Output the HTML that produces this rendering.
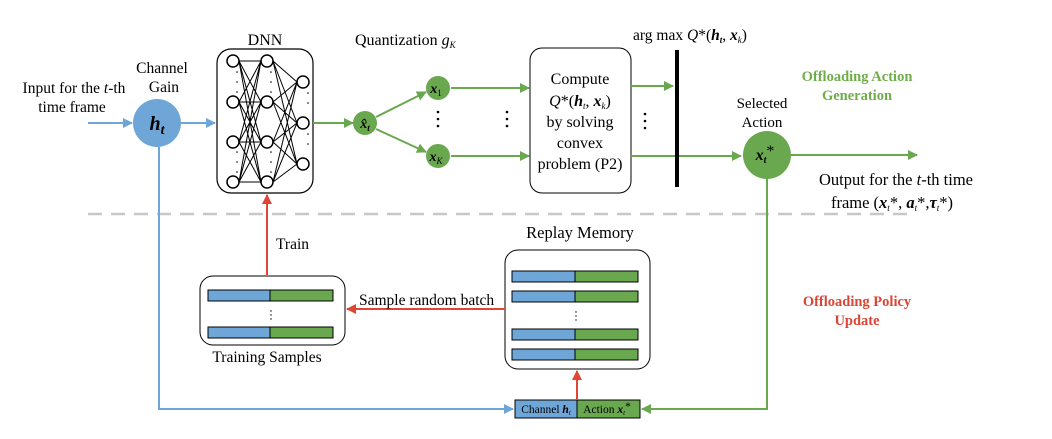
<!DOCTYPE html>
<html><head><meta charset="utf-8"><style>
body{margin:0;background:#fff;}
svg{display:block;font-family:"Liberation Serif",serif;}
</style></head><body>
<svg width="1052" height="439" viewBox="0 0 1052 439" xmlns="http://www.w3.org/2000/svg">
<defs>
<marker id="ab" markerWidth="10" markerHeight="10" refX="9" refY="5" orient="auto" markerUnits="userSpaceOnUse"><path d="M0,0 L10,5 L0,10 Z" fill="#6fa6d8"/></marker>
<marker id="ag" markerWidth="10" markerHeight="10" refX="9" refY="5" orient="auto" markerUnits="userSpaceOnUse"><path d="M0,0 L10,5 L0,10 Z" fill="#69a84f"/></marker>
<marker id="ar" markerWidth="10" markerHeight="10" refX="9" refY="5" orient="auto" markerUnits="userSpaceOnUse"><path d="M0,0 L10,5 L0,10 Z" fill="#e04535"/></marker>
</defs>

<line x1="88" y1="214" x2="908" y2="214" stroke="#c8c8c8" stroke-width="2.5" stroke-dasharray="14,9"/>

<text x="74" y="93" font-size="15.5" text-anchor="middle">Input for the <tspan font-style="italic">t</tspan>-th</text>
<text x="72" y="112" font-size="15.5" text-anchor="middle">time frame</text>
<line x1="88" y1="123" x2="132" y2="123" stroke="#6fa6d8" stroke-width="2" marker-end="url(#ab)"/>
<text x="162" y="73" font-size="15.5" text-anchor="middle">Channel</text>
<text x="164" y="92" font-size="15.5" text-anchor="middle">Gain</text>
<circle cx="157" cy="123" r="24" fill="#6fa6d8"/>
<text x="157" y="130" font-size="20" font-weight="bold" font-style="italic" text-anchor="middle">h<tspan font-size="14" dy="4">t</tspan></text>
<line x1="181" y1="123" x2="215" y2="123" stroke="#6fa6d8" stroke-width="2" marker-end="url(#ab)"/>

<text x="265" y="45" font-size="16" text-anchor="middle">DNN</text>
<rect x="217" y="49" width="96" height="144" rx="14" fill="#fff" stroke="#000" stroke-width="1.2"/>
<g stroke="#000" stroke-width="1">
<path d="M239,61L261,61M239,61L261,102M239,61L261,142M239,61L261,182M239,102L261,61M239,102L261,102M239,102L261,142M239,102L261,182M239,142L261,61M239,142L261,102M239,142L261,142M239,142L261,182M239,182L261,61M239,182L261,102M239,182L261,142M239,182L261,182"/>
<path d="M273,61L297,82M273,61L297,123M273,61L297,164M273,102L297,82M273,102L297,123M273,102L297,164M273,142L297,82M273,142L297,123M273,142L297,164M273,182L297,82M273,182L297,123M273,182L297,164"/>
</g>
<g fill="#fff" stroke="#000" stroke-width="1.5">
<circle cx="233" cy="61" r="6"/><circle cx="233" cy="102" r="6"/><circle cx="233" cy="142" r="6"/><circle cx="233" cy="182" r="6"/>
<circle cx="267" cy="61" r="6"/><circle cx="267" cy="102" r="6"/><circle cx="267" cy="142" r="6"/><circle cx="267" cy="182" r="6"/>
<circle cx="303" cy="82" r="6"/><circle cx="303" cy="123" r="6"/><circle cx="303" cy="164" r="6"/>
</g>
<g fill="#000">
<circle cx="237" cy="72" r=".8"/><circle cx="237" cy="82" r=".8"/><circle cx="237" cy="92" r=".8"/><circle cx="237" cy="152" r=".8"/><circle cx="237" cy="162" r=".8"/><circle cx="237" cy="172" r=".8"/>
<circle cx="271" cy="72" r=".8"/><circle cx="271" cy="82" r=".8"/><circle cx="271" cy="92" r=".8"/><circle cx="271" cy="152" r=".8"/><circle cx="271" cy="162" r=".8"/><circle cx="271" cy="172" r=".8"/>
<circle cx="308" cy="93" r=".8"/><circle cx="308" cy="103" r=".8"/><circle cx="308" cy="134" r=".8"/><circle cx="308" cy="144" r=".8"/>
</g>
<line x1="313" y1="123" x2="353" y2="123" stroke="#69a84f" stroke-width="2" marker-end="url(#ag)"/>

<text x="355" y="45" font-size="16">Quantization <tspan font-style="italic">g</tspan><tspan font-size="9" font-style="italic" dy="3">K</tspan></text>
<circle cx="365" cy="123" r="12" fill="#69a84f"/>
<text x="365" y="128" font-size="14" font-weight="bold" font-style="italic" text-anchor="middle">x̂<tspan font-size="9" dy="3">t</tspan></text>
<line x1="376" y1="117" x2="426" y2="92" stroke="#69a84f" stroke-width="2" marker-end="url(#ag)"/>
<line x1="376" y1="129" x2="426" y2="152" stroke="#69a84f" stroke-width="2" marker-end="url(#ag)"/>
<circle cx="438" cy="88" r="12" fill="#69a84f"/>
<text x="436" y="93" font-size="14" font-weight="bold" font-style="italic" text-anchor="middle">x<tspan font-size="9" font-weight="normal" font-style="normal" dy="3">1</tspan></text>
<circle cx="438" cy="156" r="12" fill="#69a84f"/>
<text x="436" y="161" font-size="14" font-weight="bold" font-style="italic" text-anchor="middle">x<tspan font-size="9" font-weight="normal" dy="3">K</tspan></text>
<g fill="#000"><circle cx="438" cy="112" r="1.3"/><circle cx="438" cy="119" r="1.3"/><circle cx="438" cy="126" r="1.3"/>
<circle cx="507" cy="112" r="1.3"/><circle cx="507" cy="119" r="1.3"/><circle cx="507" cy="126" r="1.3"/>
<circle cx="645" cy="114" r="1.3"/><circle cx="645" cy="121" r="1.3"/><circle cx="645" cy="128" r="1.3"/></g>
<line x1="451" y1="88" x2="529" y2="88" stroke="#69a84f" stroke-width="2" marker-end="url(#ag)"/>
<line x1="451" y1="156" x2="529" y2="156" stroke="#69a84f" stroke-width="2" marker-end="url(#ag)"/>

<rect x="530" y="48" width="101" height="145" rx="12" fill="#fff" stroke="#000" stroke-width="1"/>
<g font-size="16" text-anchor="middle">
<text x="580" y="84">Compute</text>
<text x="580" y="106"><tspan font-style="italic">Q</tspan>*(<tspan font-weight="bold" font-style="italic">h</tspan><tspan font-size="9" font-style="italic" dy="3">t</tspan><tspan dy="-3">, </tspan><tspan font-weight="bold" font-style="italic">x</tspan><tspan font-size="9" font-style="italic" dy="3">k</tspan><tspan dy="-3">)</tspan></text>
<text x="580" y="127">by solving</text>
<text x="580" y="148">convex</text>
<text x="580" y="169">problem (P2)</text>
</g>
<line x1="631" y1="86" x2="673" y2="86" stroke="#69a84f" stroke-width="2" marker-end="url(#ag)"/>
<line x1="631" y1="156" x2="741" y2="156" stroke="#69a84f" stroke-width="2" marker-end="url(#ag)"/>
<line x1="677" y1="50" x2="677" y2="187" stroke="#000" stroke-width="4"/>
<text x="690" y="40" font-size="15.5" text-anchor="middle">arg max <tspan font-style="italic">Q</tspan>*(<tspan font-weight="bold" font-style="italic">h</tspan><tspan font-size="9" font-weight="bold" font-style="italic" dy="3">t</tspan><tspan dy="-3">, </tspan><tspan font-weight="bold" font-style="italic">x</tspan><tspan font-size="9" font-style="italic" dy="3">k</tspan><tspan dy="-3">)</tspan></text>

<text x="762" y="108" font-size="15" text-anchor="middle">Selected</text>
<text x="762" y="127" font-size="15" text-anchor="middle">Action</text>
<circle cx="767" cy="155" r="24" fill="#69a84f"/>
<text x="765" y="160" font-size="16" font-weight="bold" font-style="italic" text-anchor="middle">x<tspan font-size="10" dy="3">t</tspan><tspan font-weight="normal" font-style="normal" dy="-7">*</tspan></text>
<line x1="791" y1="155" x2="917" y2="155" stroke="#69a84f" stroke-width="2" marker-end="url(#ag)"/>
<text x="857" y="81" font-size="14.5" font-weight="bold" fill="#6fad4a" text-anchor="middle">Offloading Action</text>
<text x="857" y="100" font-size="14.5" font-weight="bold" fill="#6fad4a" text-anchor="middle">Generation</text>
<text x="896" y="185" font-size="16.5" text-anchor="middle">Output for the <tspan font-style="italic">t</tspan>-th time</text>
<text x="892" y="208" font-size="16.5" text-anchor="middle">frame (<tspan font-weight="bold" font-style="italic">x</tspan><tspan font-size="9" font-style="italic" dy="3">t</tspan><tspan dy="-3">*, </tspan><tspan font-weight="bold" font-style="italic">a</tspan><tspan font-size="9" font-style="italic" dy="3">t</tspan><tspan dy="-3">*,</tspan><tspan font-weight="bold" font-style="italic">τ</tspan><tspan font-size="9" font-style="italic" dy="3">t</tspan><tspan dy="-3">*)</tspan></text>
<text x="857" y="306" font-size="14.5" font-weight="bold" fill="#dc4435" text-anchor="middle">Offloading Policy</text>
<text x="857" y="325" font-size="14.5" font-weight="bold" fill="#dc4435" text-anchor="middle">Update</text>

<polyline points="159,147 159,409 513,409" fill="none" stroke="#6fa6d8" stroke-width="2" marker-end="url(#ab)"/>
<polyline points="767,179 767,409 642,409" fill="none" stroke="#69a84f" stroke-width="2" marker-end="url(#ag)"/>

<rect x="515" y="400" width="62" height="18" fill="#6fa6d8" stroke="#000" stroke-width="1"/>
<rect x="577" y="400" width="63" height="18" fill="#69a84f" stroke="#000" stroke-width="1"/>
<text x="546" y="413" font-size="11.5" text-anchor="middle">Channel <tspan font-weight="bold" font-style="italic">h</tspan><tspan font-size="7" font-style="italic" dy="2">t</tspan></text>
<text x="607" y="413" font-size="11.5" text-anchor="middle">Action <tspan font-weight="bold" font-style="italic">x</tspan><tspan font-size="7" font-style="italic" dy="2">t</tspan><tspan dy="-5">*</tspan></text>
<line x1="577" y1="400" x2="577" y2="371" stroke="#e04535" stroke-width="2" marker-end="url(#ar)"/>

<text x="580" y="238" font-size="16.5" text-anchor="middle">Replay Memory</text>
<rect x="505" y="250" width="145" height="119" rx="13" fill="#fff" stroke="#000" stroke-width="1"/>
<g stroke="#000" stroke-width="1">
<rect x="512" y="271" width="63" height="11" fill="#6fa6d8"/><rect x="575" y="271" width="63" height="11" fill="#69a84f"/>
<rect x="512" y="291" width="63" height="11" fill="#6fa6d8"/><rect x="575" y="291" width="63" height="11" fill="#69a84f"/>
<rect x="512" y="329" width="63" height="11" fill="#6fa6d8"/><rect x="575" y="329" width="63" height="11" fill="#69a84f"/>
<rect x="512" y="349" width="63" height="11" fill="#6fa6d8"/><rect x="575" y="349" width="63" height="11" fill="#69a84f"/>
<rect x="208" y="290" width="62" height="11" fill="#6fa6d8"/><rect x="270" y="290" width="63" height="11" fill="#69a84f"/>
<rect x="208" y="327" width="62" height="11" fill="#6fa6d8"/><rect x="270" y="327" width="63" height="11" fill="#69a84f"/>
</g>
<g fill="#000"><circle cx="576" cy="312" r=".7"/><circle cx="576" cy="316" r=".7"/><circle cx="576" cy="320" r=".7"/>
<circle cx="271" cy="311" r=".7"/><circle cx="271" cy="315" r=".7"/><circle cx="271" cy="319" r=".7"/></g>

<line x1="505" y1="309" x2="347" y2="309" stroke="#e04535" stroke-width="2" marker-end="url(#ar)"/>
<text x="359" y="305" font-size="15.5">Sample random batch</text>

<rect x="200" y="276" width="145" height="69" rx="13" fill="none" stroke="#000" stroke-width="1"/>
<text x="267" y="362" font-size="15.5" text-anchor="middle">Training Samples</text>
<line x1="267" y1="275" x2="267" y2="195" stroke="#e04535" stroke-width="2" marker-end="url(#ar)"/>
<text x="276" y="249" font-size="15.5">Train</text>
</svg>
</body></html>
